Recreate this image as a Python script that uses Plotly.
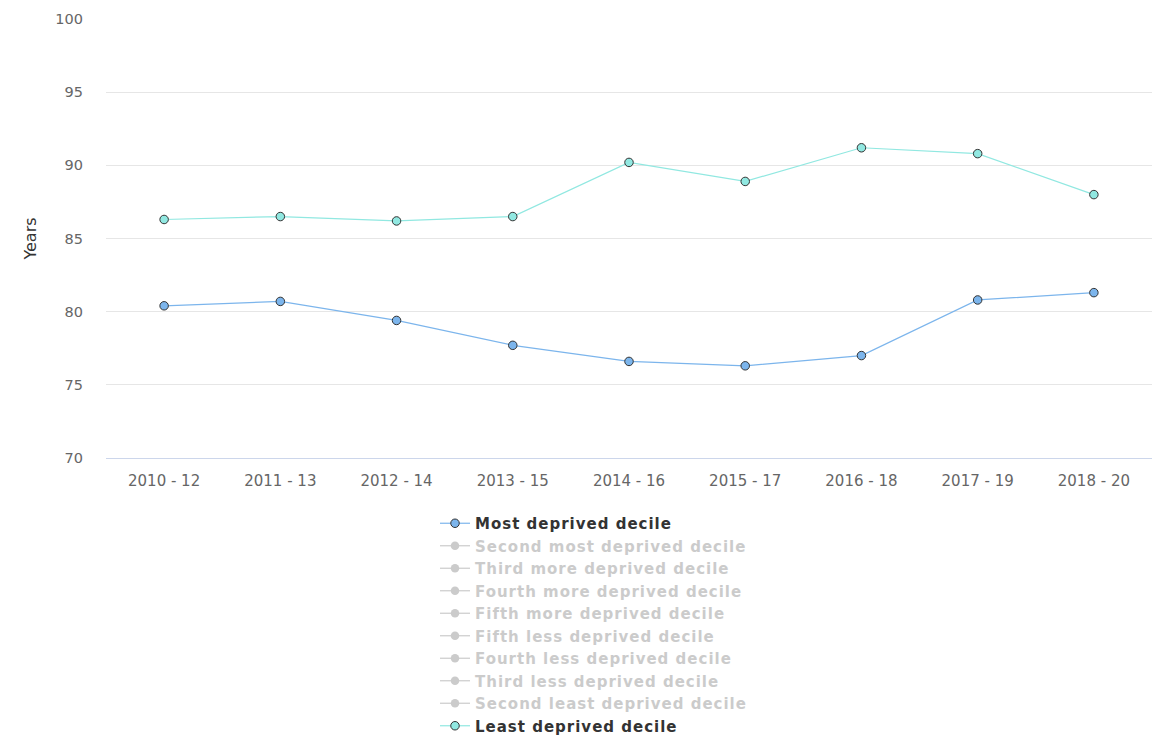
import plotly.graph_objects as go

periods = ["2010 - 12", "2011 - 13", "2012 - 14", "2013 - 15", "2014 - 16",
           "2015 - 17", "2016 - 18", "2017 - 19", "2018 - 20"]

most_deprived = [80.4, 80.7, 79.4, 77.7, 76.6, 76.3, 77.0, 80.8, 81.3]
least_deprived = [86.3, 86.5, 86.2, 86.5, 90.2, 88.9, 91.2, 90.8, 88.0]

hidden_series = [
    "Second most deprived decile",
    "Third more deprived decile",
    "Fourth more deprived decile",
    "Fifth more deprived decile",
    "Fifth less deprived decile",
    "Fourth less deprived decile",
    "Third less deprived decile",
    "Second least deprived decile",
]
hidden_values = [None] * len(periods)

y_ticks = [70, 75, 80, 85, 90, 95, 100]

FONT = "DejaVu Sans"
LS = "letter-spacing:1px"

fig = go.Figure()

fig.add_trace(go.Scatter(
    x=periods, y=most_deprived, mode="lines+markers",
    name=f'<span style="{LS}"><b>Most deprived decile</b></span>',
    line=dict(color="#7cb5ec", width=1.2),
    marker=dict(size=8.5, color="#7cb5ec", line=dict(color="#333333", width=1)),
))

for name in hidden_series:
    fig.add_trace(go.Scatter(
        x=periods, y=hidden_values, mode="lines+markers",
        name=f'<span style="color:#999999;{LS}"><b>{name}</b></span>',
        visible="legendonly",
        line=dict(color="#999999", width=1.2),
        marker=dict(size=8.5, color="#999999"),
    ))

fig.add_trace(go.Scatter(
    x=periods, y=least_deprived, mode="lines+markers",
    name=f'<span style="{LS}"><b>Least deprived decile</b></span>',
    line=dict(color="#91e8e1", width=1.2),
    marker=dict(size=8.5, color="#91e8e1", line=dict(color="#333333", width=1)),
))

fig.update_layout(
    width=1152, height=727,
    margin=dict(l=98, r=8, t=11, b=277, autoexpand=False),
    paper_bgcolor="white", plot_bgcolor="white",
    font=dict(family=FONT, color="#333333", size=14),
    showlegend=True,
    legend=dict(
        orientation="v",
        x=(435 - 106) / 1046, xanchor="left",
        y=-49 / 439, yanchor="top",
        font=dict(family=FONT, size=15, color="#333333"),
        itemwidth=30,
        tracegroupgap=0,
        bgcolor="rgba(0,0,0,0)",
    ),
    xaxis=dict(
        type="category",
        categoryorder="array", categoryarray=periods,
        showgrid=False,
        showline=True, linecolor="#ccd6eb", linewidth=1,
        ticks="",
        tickangle=0,
        ticklabelstandoff=9,
        tickfont=dict(family=FONT, size=15, color="#666666"),
        range=[-0.5, len(periods) - 0.5],
        zeroline=False,
    ),
    yaxis=dict(
        range=[70, 100],
        tickvals=y_ticks,
        showgrid=True, gridcolor="#e6e6e6", gridwidth=1,
        showline=False, zeroline=False,
        ticks="",
        tickfont=dict(family=FONT, size=14.5, color="#666666"),
        ticklabelstandoff=22,
        title=dict(text="Years", font=dict(family=FONT, size=16, color="#333333"),
                   standoff=14),
    ),
)

fig.write_html("out.html")
